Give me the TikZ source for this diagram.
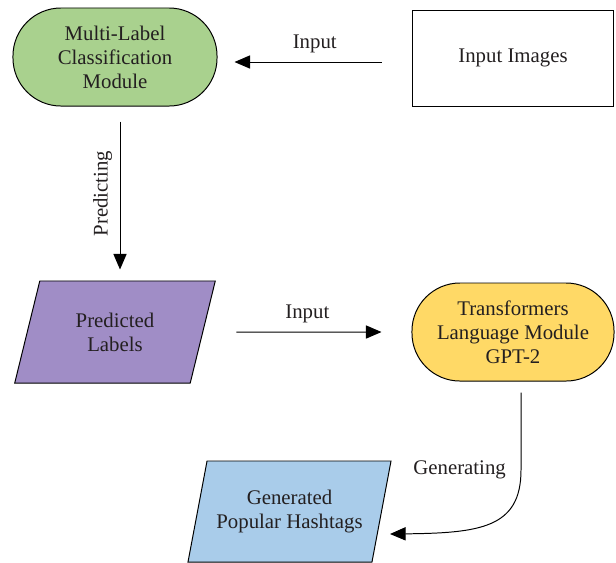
\documentclass[tikz,border=0pt]{standalone}
\usepackage{fontspec}
\setmainfont{Liberation Serif}
\usepackage{tikz}
\usetikzlibrary{positioning, arrows.meta, shapes.geometric, calc}

\definecolor{modgreen}{HTML}{A9D18E}
\definecolor{labpurple}{HTML}{A08DC6}
\definecolor{gptyellow}{HTML}{FFD966}
\definecolor{tagblue}{HTML}{A9CCEA}
\definecolor{inktext}{HTML}{231F20}

\begin{document}
\begin{tikzpicture}[
    x=0.025cm, y=-0.025cm,
    box/.style={draw=black, line width=0.7pt, align=center, text=inktext, font=\fontsize{14.8}{17}\selectfont},
    pill/.style={box, rectangle, rounded corners=1.2cm, minimum width=5.05cm, minimum height=2.45cm},
    slanted/.style={box, trapezium, trapezium stretches=true, minimum height=2.55cm},
    arrow/.style={-{Triangle[length=3.9mm, width=3.3mm]}, line width=0.7pt},
    lbl/.style={font=\fontsize{14.8}{17}\selectfont, text=inktext}
]
\useasboundingbox (0,0) rectangle (616,562);

% Top row
\node[pill, fill=modgreen, minimum width=5.1cm] (mlc) at (115,57) {Multi-Label\\Classification\\Module};
\node[box, minimum width=5.025cm, minimum height=2.4cm] (images) at (513,58) {Input Images};

% Middle row
\node[slanted, fill=labpurple, trapezium left angle=73, trapezium right angle=107, minimum width=5.05cm] (predicted) at (115,332) {Predicted\\Labels};
\node[pill, fill=gptyellow] (gpt) at (513,332) {Transformers\\Language Module\\GPT-2};

% Bottom row
\node[slanted, fill=tagblue, trapezium left angle=71, trapezium right angle=109, minimum width=5.075cm, minimum height=2.525cm] (hashtags) at (289.5,511.5) {Generated\\Popular Hashtags};

% Connectors
\draw[arrow, shorten <=0.75cm, shorten >=0.425cm] ([yshift=-0.1cm]images.west) -- node[lbl, midway, above=3pt] {Input} ([yshift=-0.1cm]images.west -| mlc.east);
\draw[arrow, shorten <=0.375cm, shorten >=0.275cm] ([xshift=0.125cm]mlc.south) -- node[lbl, midway, rotate=90, anchor=south, yshift=2pt] {Predicting} ([xshift=0.125cm]mlc.south |- predicted.north);
\draw[arrow, shorten <=0.825cm, shorten >=0.75cm] (predicted.east) -- node[lbl, midway, above=3pt] {Input} (gpt.west);

\coordinate (genbend) at (521,470);
\coordinate (gentip) at (390,534);
\draw[arrow] ([xshift=0.2cm, yshift=-0.275cm]gpt.south) -- node[lbl, pos=1, left=0.25cm] {Generating} (genbend) .. controls (521,528) and (480,533) .. (gentip);

\end{tikzpicture}
\end{document}
